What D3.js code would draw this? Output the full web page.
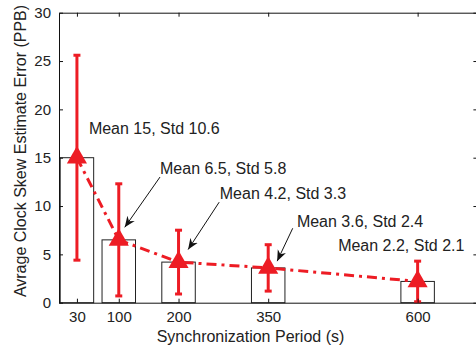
<!DOCTYPE html>
<html>
<head>
<meta charset="utf-8">
<script src="https://cdn.jsdelivr.net/npm/d3@7"></script>
<style>
  body { margin: 0; background: #fff; }
  text { font-family: "Liberation Sans", Arial, sans-serif; fill: #222; }
</style>
</head>
<body>
<div id="chart"></div>
<script>
// synchronization periods and the measured skew error for each one
const periods = [30, 100, 200, 350, 600];
const means = [15, 6.5, 4.2, 3.6, 2.2];
const stds = [10.6, 5.8, 3.3, 2.4, 2.1];
const yTicks = [0, 5, 10, 15, 20, 25, 30];

// annotation text and where it sits (data units), plus arrows (data units)
const noteText = ["Mean 15, Std 10.6", "Mean 6.5, Std 5.8", "Mean 4.2, Std 3.3", "Mean 3.6, Std 2.4", "Mean 2.2, Std 2.1"];
const noteX = [50, 169, 269, 398, 467];
const noteY = [17.5, 13.3, 10.7, 7.8, 5.35];
const arrowFrom = [[169, 13.0], [268, 10.4], [391, 7.7]];
const arrowTo = [[110, 7.8], [216, 5.5], [365, 4.3]];

const W = 476, H = 348;
const red = "#ed1c24";

const svg = d3.select("#chart")
  .append("svg")
  .attr("width", W)
  .attr("height", H);

const x = d3.scaleLinear().domain([0, 700]).range([59, 477.4]);
const y = d3.scaleLinear().domain([0, 30]).range([302.7, 12.7]);

// arrow head like matlab's annotation arrow
svg.append("defs").append("marker")
  .attr("id", "head")
  .attr("markerUnits", "userSpaceOnUse")
  .attr("viewBox", "-11 -5 12 10")
  .attr("markerWidth", 12)
  .attr("markerHeight", 10)
  .attr("refX", 0)
  .attr("refY", 0)
  .attr("orient", "auto")
  .append("path")
  .attr("d", "M0,0 L-11,-4.5 L-7.5,0 L-11,4.5 Z")
  .attr("fill", "#111");

// bars (width 56 units, like the original)
const barW = 56;
svg.append("g")
  .selectAll("rect")
  .data(periods)
  .enter()
  .append("rect")
  .attr("x", d => x(d - barW / 2))
  .attr("width", d => x(d + barW / 2) - x(d - barW / 2))
  .attr("y", (d, i) => y(means[i]))
  .attr("height", (d, i) => y(0) - y(means[i]))
  .attr("fill", "#fff")
  .attr("stroke", "#222")
  .attr("stroke-width", 1);

// dash-dot line through the means
const line = d3.line()
  .x(d => x(d[0]))
  .y(d => y(d[1]));
svg.append("path")
  .datum(periods.map((p, i) => [p, means[i]]))
  .attr("d", line)
  .attr("fill", "none")
  .attr("stroke", red)
  .attr("stroke-width", 3)
  .attr("stroke-dasharray", "10,5,3,5");

// error bars
const err = svg.append("g")
  .selectAll("g")
  .data(periods)
  .enter()
  .append("g")
  .attr("stroke", red)
  .attr("stroke-width", 3);
err.append("line")
  .attr("x1", d => x(d)).attr("x2", d => x(d))
  .attr("y1", (d, i) => y(means[i] + stds[i]))
  .attr("y2", (d, i) => y(means[i] - stds[i]));
err.append("line")
  .attr("x1", d => x(d) - 3.5).attr("x2", d => x(d) + 3.5)
  .attr("y1", (d, i) => y(means[i] + stds[i]))
  .attr("y2", (d, i) => y(means[i] + stds[i]));
err.append("line")
  .attr("x1", d => x(d) - 3.5).attr("x2", d => x(d) + 3.5)
  .attr("y1", (d, i) => y(means[i] - stds[i]))
  .attr("y2", (d, i) => y(means[i] - stds[i]));

// triangle markers
svg.append("g")
  .selectAll("path")
  .data(periods)
  .enter()
  .append("path")
  .attr("d", d3.symbol(d3.symbolTriangle, 175))
  .attr("transform", (d, i) => `translate(${x(d)},${y(means[i])})`)
  .attr("fill", red);

// axes box with inward ticks
const axBottom = svg.append("g")
  .attr("transform", `translate(0,${y(0)})`)
  .call(d3.axisBottom(x).tickValues(periods).tickSize(-4).tickSizeOuter(0).tickPadding(8.5));
const axLeft = svg.append("g")
  .attr("transform", `translate(${x(0)},0)`)
  .call(d3.axisLeft(y).tickValues(yTicks).tickSize(-4).tickSizeOuter(0).tickPadding(8));
const axTop = svg.append("g")
  .attr("transform", `translate(0,${y(30)})`)
  .call(d3.axisTop(x).tickValues(periods).tickSize(-4).tickSizeOuter(0).tickFormat(""));
const axRight = svg.append("g")
  .attr("transform", `translate(${x(700)},0)`)
  .call(d3.axisRight(y).tickValues(yTicks).tickSize(-4).tickSizeOuter(0).tickFormat(""));

[axBottom, axLeft, axTop, axRight].forEach(a => {
  a.selectAll("path.domain").attr("stroke", "#111").attr("stroke-width", 1);
  a.selectAll(".tick line").attr("stroke", "#111");
  a.selectAll("text").attr("font-size", 15).attr("fill", "#222")
    .style("font-family", "'Liberation Sans', Arial, sans-serif");
});

// axis titles
svg.append("text")
  .attr("x", 250.5)
  .attr("y", 342)
  .attr("text-anchor", "middle")
  .attr("font-size", 16)
  .text("Synchronization Period (s)");
svg.append("text")
  .attr("transform", "translate(26,151) rotate(-90)")
  .attr("text-anchor", "middle")
  .attr("font-size", 16)
  .text("Avrage Clock Skew Estimate Error (PPB)");

// annotations
svg.append("g")
  .selectAll("text")
  .data(noteText)
  .enter()
  .append("text")
  .attr("x", (d, i) => x(noteX[i]))
  .attr("y", (d, i) => y(noteY[i]))
  .attr("font-size", 16)
  .text(d => d);

svg.append("g")
  .selectAll("line")
  .data(arrowFrom)
  .enter()
  .append("line")
  .attr("x1", d => x(d[0]))
  .attr("y1", d => y(d[1]))
  .attr("x2", (d, i) => x(arrowTo[i][0]))
  .attr("y2", (d, i) => y(arrowTo[i][1]))
  .attr("stroke", "#111")
  .attr("stroke-width", 1)
  .attr("marker-end", "url(#head)");
</script>
</body>
</html>
